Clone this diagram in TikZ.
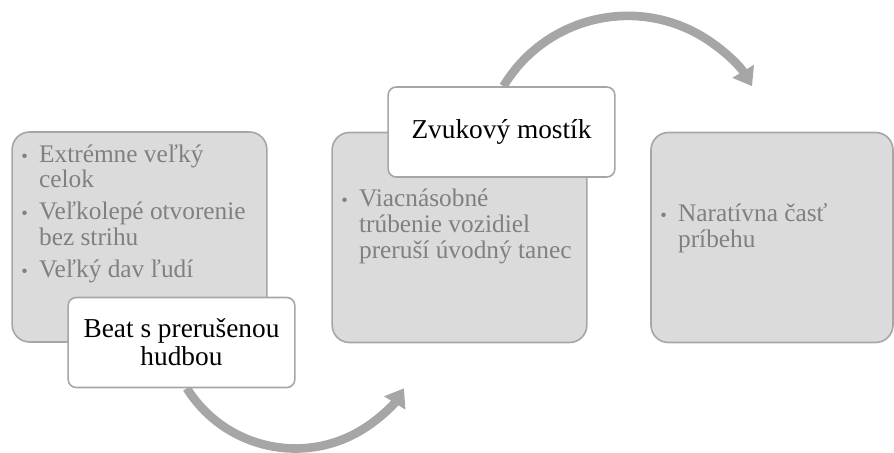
\documentclass[tikz,border=0pt]{standalone}
\usepackage{fontspec}
\setmainfont{Liberation Serif}
\usetikzlibrary{positioning, arrows.meta, backgrounds}
\definecolor{panelfill}{RGB}{219,219,219}
\definecolor{panelline}{RGB}{166,166,166}
\definecolor{paneltext}{RGB}{128,128,128}
\newcommand{\bul}{{\fontsize{14}{14}\selectfont\textbullet}}

\begin{document}
\begin{tikzpicture}[
        x=0.75pt, y=-0.75pt,
        panel/.style={draw=panelline, fill=panelfill, line width=1.2pt, rounded corners=13pt, minimum width=191pt, minimum height=157.5pt, inner sep=0pt},
        caption/.style={draw=panelline, fill=white, line width=1.2pt, rounded corners=6pt, minimum width=170pt, minimum height=67.5pt, align=center, font=\fontsize{20.5}{21}\selectfont},
        bullets/.style={anchor=base west, inner sep=0pt, text=paneltext, font=\fontsize{19}{19.5}\selectfont},
        flow/.style={draw=panelline, line width=6.5pt, -{Triangle[width=18pt, length=13pt]}}
    ]
    \useasboundingbox (0,0) rectangle (894,453);

    % Panels
    \node[panel] (opening) at (139.5, 237) {};
    \node[panel] (horns) at (459.5, 237.5) {};
    \node[panel, minimum width=181.5pt] (story) at (772, 237.5) {};

    % Panel texts
    \node[bullets] (openingtxt) at (21, 162) {\begin{tabular}[t]{@{}l@{\hspace{8.5pt}}l@{}}
        \bul & Extrémne veľký\\ & celok\\[4.3pt]
        \bul & Veľkolepé otvorenie\\ & bez strihu\\[4.3pt]
        \bul & Veľký dav ľudí
    \end{tabular}};
    \node[bullets] (hornstxt) at (341, 207) {\begin{tabular}[t]{@{}l@{\hspace{8.5pt}}l@{}}
        \bul & Viacnásobné\\ & trúbenie vozidiel\\ & preruší úvodný tanec
    \end{tabular}};
    \node[bullets] (storytxt) at (660, 222) {\begin{tabular}[t]{@{}l@{\hspace{8.5pt}}l@{}}
        \bul & Naratívna časť\\ & príbehu
    \end{tabular}};

    % Captions
    \node[caption] (beat) at (181.5, 342.5) {Beat s prerušenou\\hudbou};
    \node[caption] (bridge) at (501.5, 132) {Zvukový mostík};

    % Arrows between stages
    \begin{scope}[on background layer]
        \draw[flow] ([xshift=4pt]beat.south) arc[start angle=148, end angle=32, radius=128] coordinate (hornsin);
        \draw[flow] ([xshift=1.5pt]bridge.north) arc[start angle=211, end angle=329, radius=145] coordinate (storyin);
    \end{scope}
\end{tikzpicture}
\end{document}
